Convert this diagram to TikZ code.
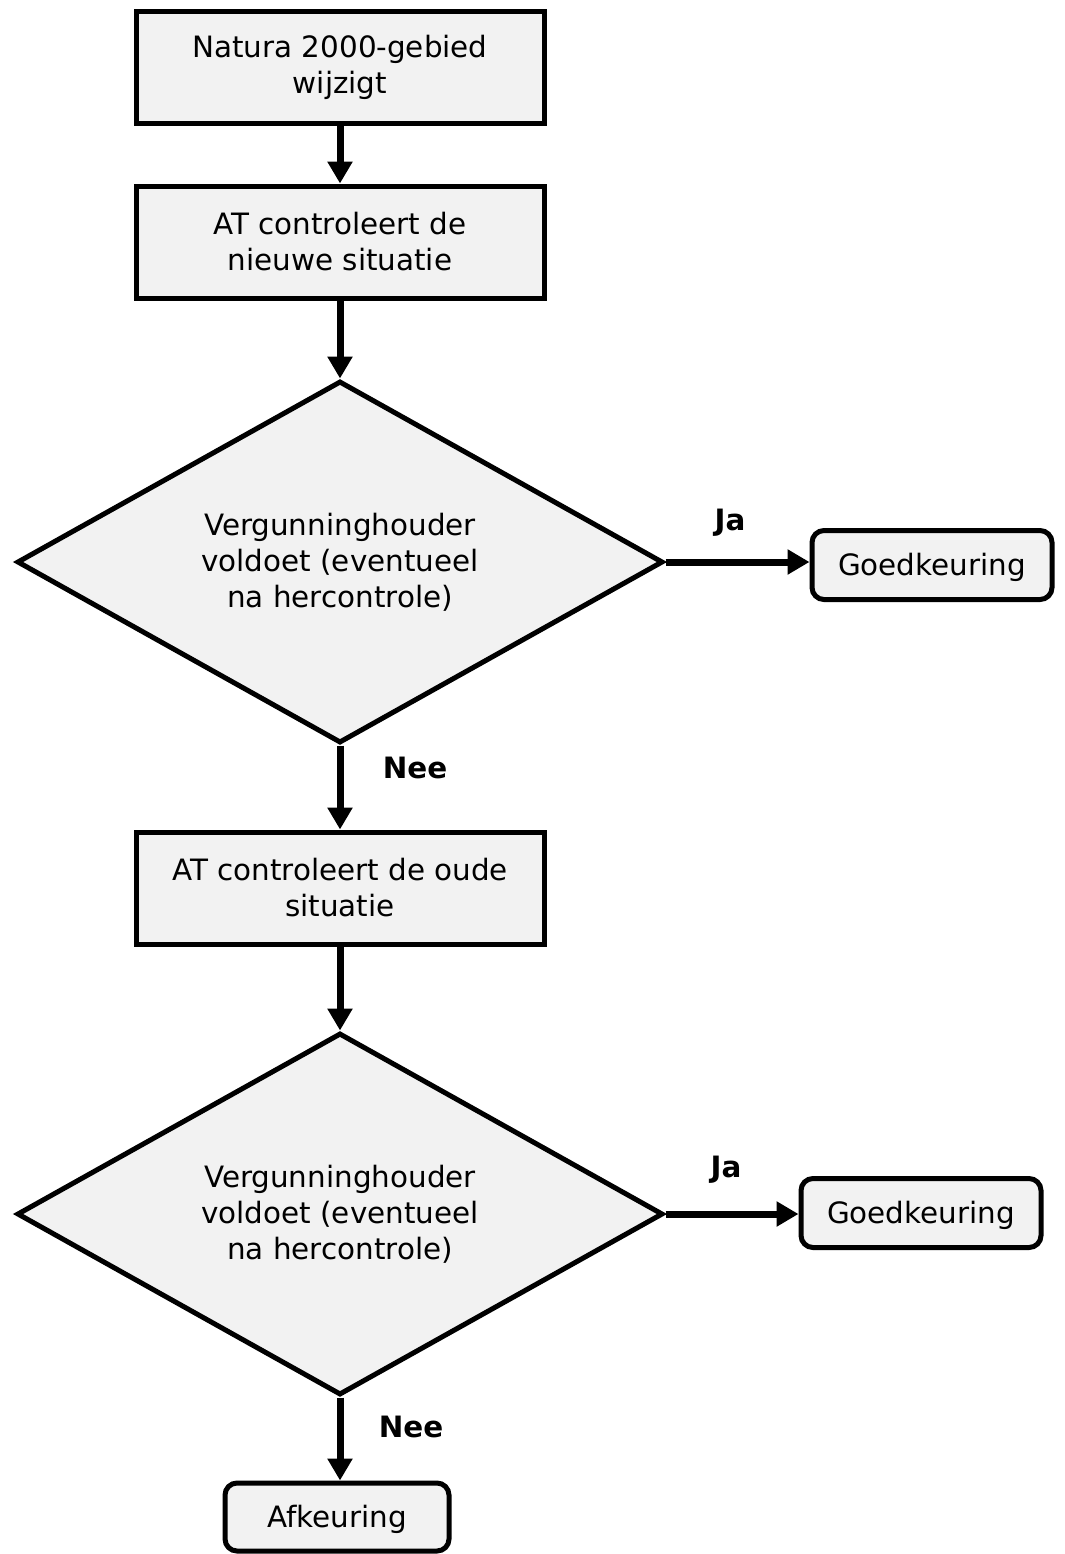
\documentclass[tikz,border=0pt]{standalone}
\usepackage{fontspec}
\setmainfont{DejaVu Sans}
\usetikzlibrary{arrows.meta, shapes.geometric}
\definecolor{vlak}{HTML}{F2F2F2}
\tikzset{box/.style = {draw, line width=2.5pt, fill=vlak, align=center, minimum width=204pt, minimum height=56pt, font=\fontsize{14.7}{18}\selectfont}}
\tikzset{eind/.style = {box, rounded corners=6pt, minimum width=120pt, minimum height=34.5pt, text depth=1pt}}
\tikzset{ruit/.style = {box, diamond, shape aspect=1.8, inner sep=0pt, minimum width=323pt, minimum height=181pt}}
\tikzset{pijl/.style = {line width=3.5pt, -{Triangle[length=11pt, width=12pt]}}}
\tikzset{lbl/.style = {font=\fontsize{14.7}{18}\selectfont\bfseries}}

\begin{document}
\begin{tikzpicture}[x=0.5pt, y=-0.5pt]
\useasboundingbox (0,0) rectangle (1065,1554);
\node [box] (wijzig) at (340,67) {Natura 2000-gebied\\wijzigt};
\node [box] (nieuw) at (340,242) {AT controleert de\\nieuwe situatie};
\node [ruit] (vraag1) at (340,562) {Vergunninghouder\\voldoet (eventueel\\na hercontrole)};
\node [eind] (goed1) at (932,565) {Goedkeuring};
\node [box] (oud) at (340,888) {AT controleert de oude\\situatie};
\node [ruit] (vraag2) at (340,1214) {Vergunninghouder\\voldoet (eventueel\\na hercontrole)};
\node [eind] (goed2) at (921,1213) {Goedkeuring};
\node [eind, minimum width=112pt, minimum height=34pt] (afkeur) at (337,1517) {Afkeuring};
% pijlen
\draw [pijl] (wijzig) -- (nieuw);
\draw [pijl] (nieuw) -- (vraag1);
\draw [pijl] (vraag1.east) -- (vraag1.east -| goed1.west);
\draw [pijl] (vraag1.south) -- (oud.north);
\draw [pijl] (oud) -- (vraag2);
\draw [pijl] (vraag2.east) -- (vraag2.east -| goed2.west);
\draw [pijl] (vraag2.south) -- (vraag2.south |- afkeur.north);
% labels
\node [lbl] (ja1) at (730,523) {Ja};
\node [lbl] (nee1) at (415,768) {Nee};
\node [lbl] (ja2) at (726,1170) {Ja};
\node [lbl] (nee2) at (411,1427) {Nee};
\end{tikzpicture}
\end{document}
